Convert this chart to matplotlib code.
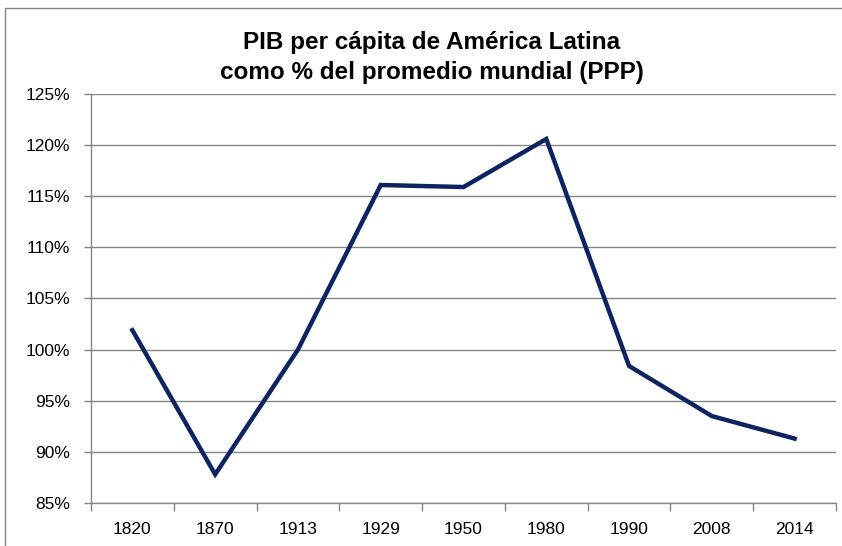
import matplotlib
matplotlib.use("Agg")
import matplotlib.pyplot as plt
from matplotlib.ticker import FixedLocator, NullFormatter
from matplotlib.patches import Rectangle

years = ["1820", "1870", "1913", "1929", "1950", "1980", "1990", "2008", "2014"]
values = [101.9, 87.8, 100.0, 116.1, 115.9, 120.6, 98.4, 93.5, 91.3]
yticks = [85, 90, 95, 100, 105, 110, 115, 120, 125]

plt.rcParams['font.family'] = ['Liberation Sans', 'DejaVu Sans']

fig = plt.figure(figsize=(8.42, 5.46), dpi=100)
ax = fig.add_axes([91/842, 1-503/546, (836-91)/842, (503-94)/546])

x = list(range(len(years)))
ax.plot(x, values, color="#0d2461", linewidth=3.2, solid_joinstyle="miter", zorder=3)

ax.set_xlim(-0.5, len(years) - 0.5)
ax.set_ylim(85, 125)
ax.set_yticks(yticks)
ax.set_yticklabels([f"{v}%" for v in yticks], fontsize=12.5)
ax.set_xticks(x)
ax.set_xticklabels(years, fontsize=12.5)
ax.tick_params(axis='x', length=0, pad=14)
ax.xaxis.set_minor_locator(FixedLocator([i - 0.5 for i in range(len(years) + 1)]))
ax.xaxis.set_minor_formatter(NullFormatter())
ax.tick_params(axis='x', which='minor', length=6, color="#868686", width=1)
ax.tick_params(axis='y', length=5, color="#868686", width=1, pad=10)
ax.grid(axis='y', color="#868686", linewidth=1)
ax.set_axisbelow(True)
for s in ["top", "right"]:
    ax.spines[s].set_visible(False)
for s in ["left", "bottom"]:
    ax.spines[s].set_color("#868686")
    ax.spines[s].set_linewidth(1)

fig.text(432/842, 1-42/546, "PIB per cápita de América Latina", ha="center", va="center",
         fontsize=17.5, fontweight="bold")
fig.text(432/842, 1-73/546, "como % del promedio mundial (PPP)", ha="center", va="center",
         fontsize=17.5, fontweight="bold")

fig.patches.append(Rectangle((5/842, -0.1), 2.0, 1-8/546+0.1, transform=fig.transFigure,
                             fill=False, edgecolor="#868686", linewidth=1))

fig.savefig("out.png", dpi=100)
